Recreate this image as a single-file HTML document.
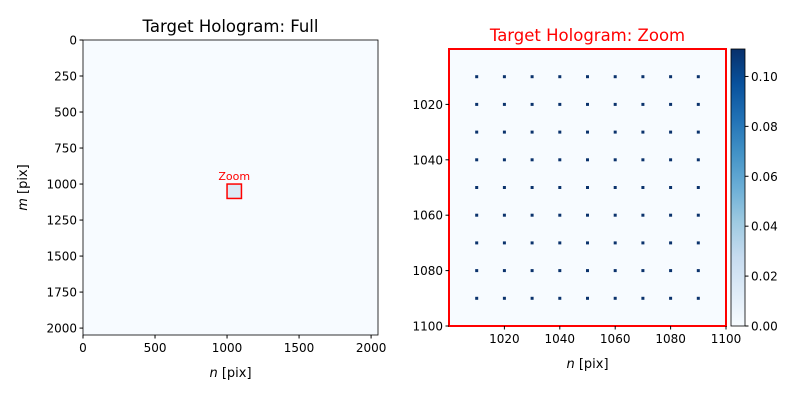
<!DOCTYPE html>
<html><head><meta charset="utf-8"><style>
body{margin:0;background:#fff;font-family:"Liberation Sans","DejaVu Sans",sans-serif}
svg text{font-family:"DejaVu Sans","Liberation Sans",sans-serif}
</style></head><body>
<svg id="c" width="800" height="400" xmlns="http://www.w3.org/2000/svg"></svg>
<script>
const fullXTicks=[0,500,1000,1500,2000];
const fullYTicks=[0,250,500,750,1000,1250,1500,1750,2000];
const fullRange=[0,2048];
const zoomBox=[1000,1100];
const zoomXTicks=[1020,1040,1060,1080,1100];
const zoomYTicks=[1020,1040,1060,1080,1100];
const spotN=[1010,1020,1030,1040,1050,1060,1070,1080,1090];
const spotM=[1010,1020,1030,1040,1050,1060,1070,1080,1090];
const spotValue=0.11;
const cbTicks=[0.00,0.02,0.04,0.06,0.08,0.10];
const cbRange=[0,0.111];

const svg=document.getElementById('c');
const NS='http://www.w3.org/2000/svg';
function el(tag,attrs,parent,text){const e=document.createElementNS(NS,tag);for(const k in attrs)e.setAttribute(k,attrs[k]);if(text!==undefined)e.textContent=text;(parent||svg).appendChild(e);return e;}
const FS=12;

// left axes
const L={x0:83,x1:378,y0:40,y1:335};
const lx=v=>L.x0+(v-fullRange[0])/(fullRange[1]-fullRange[0])*(L.x1-L.x0);
const ly=v=>L.y0+(v-fullRange[0])/(fullRange[1]-fullRange[0])*(L.y1-L.y0);
let g=el('g',{});


el('rect',{x:L.x0,y:L.y0,width:L.x1-L.x0,height:L.y1-L.y0,fill:'#f7fbff'},g);
const zb=el('rect',{x:lx(zoomBox[0]),y:ly(zoomBox[0]),width:lx(zoomBox[1])-lx(zoomBox[0]),height:ly(zoomBox[1])-ly(zoomBox[0]),fill:'#dce9f5',stroke:'#ff0000','stroke-width':1.5},g);


const zl=el('text',{x:lx((zoomBox[0]+zoomBox[1])/2),y:ly(zoomBox[0])-4,'font-size':11,fill:'#ff0000','text-anchor':'middle'},g,'Zoom');


el('rect',{x:L.x0,y:L.y0,width:L.x1-L.x0,height:L.y1-L.y0,fill:'none',stroke:'#000','stroke-width':0.8},g);
fullXTicks.forEach(t=>{
  el('line',{x1:lx(t),x2:lx(t),y1:L.y1,y2:L.y1+3.5,stroke:'#000'},g);
  const tx=el('text',{x:lx(t),y:L.y1+17,'font-size':FS,'text-anchor':'middle'},g,String(t));
  
  
});
fullYTicks.forEach(t=>{
  el('line',{x1:L.x0-3.5,x2:L.x0,y1:ly(t),y2:ly(t),stroke:'#000'},g);
  const ty=el('text',{x:L.x0-6,y:ly(t)+4.5,'font-size':FS,'text-anchor':'end'},g,String(t));
  
  
});
let t1=el('text',{x:(L.x0+L.x1)/2,y:32,'font-size':16.5,'text-anchor':'middle'},g,'Target Hologram: Full');

let xl=el('text',{x:(L.x0+L.x1)/2,y:377,'font-size':13,'text-anchor':'middle'},g);
xl.innerHTML='<tspan font-style="italic">n</tspan> [pix]';

let yl=el('text',{x:0,y:0,'font-size':13,'text-anchor':'middle',transform:`translate(27,${(L.y0+L.y1)/2}) rotate(-90)`},g);
yl.innerHTML='<tspan font-style="italic">m</tspan> [pix]';


// right axes
const R={x0:449,x1:726,y0:49,y1:326};
const rx=v=>R.x0+(v-zoomBox[0])/(zoomBox[1]-zoomBox[0])*(R.x1-R.x0);
const ry=v=>R.y0+(v-zoomBox[0])/(zoomBox[1]-zoomBox[0])*(R.y1-R.y0);
g=el('g',{});


el('rect',{x:R.x0,y:R.y0,width:R.x1-R.x0,height:R.y1-R.y0,fill:'#f7fbff'},g);
spotM.forEach(m=>spotN.forEach(n=>{
  const s=el('rect',{x:rx(n)-1.5,y:ry(m)-1.5,width:3,height:3,fill:'#08306b',opacity:Math.min(1,spotValue/cbRange[1])},g);
  
  
}));
el('rect',{x:R.x0,y:R.y0,width:R.x1-R.x0,height:R.y1-R.y0,fill:'none',stroke:'#ff0000','stroke-width':2},g);
zoomXTicks.forEach(t=>{
  el('line',{x1:rx(t),x2:rx(t),y1:R.y1,y2:R.y1+3.5,stroke:'#000'},g);
  const tx=el('text',{x:rx(t),y:R.y1+17,'font-size':FS,'text-anchor':'middle'},g,String(t));
  
});
zoomYTicks.forEach(t=>{
  el('line',{x1:R.x0-3.5,x2:R.x0,y1:ry(t),y2:ry(t),stroke:'#000'},g);
  const ty=el('text',{x:R.x0-6,y:ry(t)+4.5,'font-size':FS,'text-anchor':'end'},g,String(t));
  
});
let t2=el('text',{x:(R.x0+R.x1)/2,y:41,'font-size':16.5,'text-anchor':'middle',fill:'#ff0000'},g,'Target Hologram: Zoom');

let xl2=el('text',{x:(R.x0+R.x1)/2,y:368,'font-size':13,'text-anchor':'middle'},g);
xl2.innerHTML='<tspan font-style="italic">n</tspan> [pix]';


// colorbar
const C={x0:731,x1:745,y0:49,y1:326};
const cy=v=>C.y1-(v-cbRange[0])/(cbRange[1]-cbRange[0])*(C.y1-C.y0);
const defs=el('defs',{});
const lg=el('linearGradient',{id:'blues',x1:0,y1:1,x2:0,y2:0},defs);
[['0','#f7fbff'],['0.125','#deebf7'],['0.25','#c6dbef'],['0.375','#9ecae1'],['0.5','#6baed6'],['0.625','#4292c6'],['0.75','#2171b5'],['0.875','#08519c'],['1','#08306b']].forEach(([o,c])=>el('stop',{offset:o,'stop-color':c},lg));
g=el('g',{});


el('rect',{x:C.x0,y:C.y0,width:C.x1-C.x0,height:C.y1-C.y0,fill:'url(#blues)',stroke:'#000','stroke-width':0.8},g);
cbTicks.forEach(t=>{
  el('line',{x1:C.x1,x2:C.x1+3.5,y1:cy(t),y2:cy(t),stroke:'#000'},g);
  const tt=el('text',{x:C.x1+6,y:cy(t)+4.5,'font-size':FS},g,t.toFixed(2));
  
});
</script>
</body></html>
